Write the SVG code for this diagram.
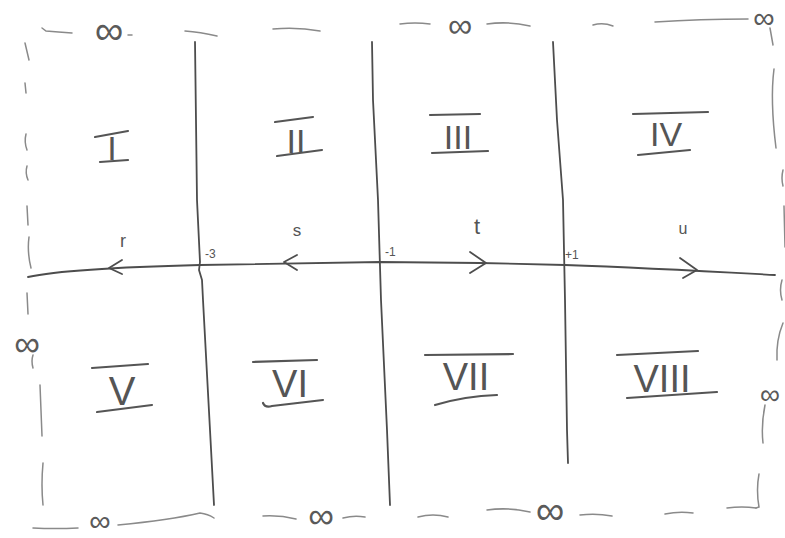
<svg xmlns="http://www.w3.org/2000/svg" width="785" height="538" viewBox="0 0 785 538">
<style>
.ink{fill:none;stroke:#4d4d4d;stroke-width:1.8;stroke-linecap:round;stroke-linejoin:round}
.bar{fill:none;stroke:#555;stroke-width:2.2;stroke-linecap:round}
.edge{fill:none;stroke:#8a8a8a;stroke-width:1.5;stroke-linecap:round}
.num{font-family:"Liberation Sans",Arial,sans-serif;fill:#555;text-anchor:middle}
.lab{font-family:"Liberation Sans",Arial,sans-serif;fill:#555;text-anchor:middle}
.inf{font-family:"Liberation Sans",Arial,sans-serif;fill:#5a5a5a;text-anchor:middle;font-size:40px}
.tick{font-family:"Liberation Sans",Arial,sans-serif;fill:#555;font-size:12px}
</style>
<rect width="785" height="538" fill="#ffffff"/>

<g id="border">
  <!-- top -->
  <path class="edge" d="M42,28 L46,31 Q58,32 72,33"/>
  <path class="edge" d="M128,35 L132,35"/>
  <path class="edge" d="M185,31 Q200,32 217,36"/>
  <path class="edge" d="M273,29 Q298,27 320,31"/>
  <path class="edge" d="M400,24 Q415,22 430,24"/>
  <path class="edge" d="M487,24 Q508,21 530,26"/>
  <path class="edge" d="M593,25 Q603,22 613,26"/>
  <path class="edge" d="M655,22 Q700,19 748,19"/>
  <!-- left -->
  <path class="edge" d="M25,43 L29,60"/>
  <path class="edge" d="M25,83 L26,93"/>
  <path class="edge" d="M26,134 Q24,142 27,150"/>
  <path class="edge" d="M27,166 Q25,173 28,180"/>
  <path class="edge" d="M27,206 L28,225"/>
  <path class="edge" d="M29,237 Q27,252 31,268"/>
  <path class="edge" d="M27,293 L28,314"/>
  <path class="edge" d="M33,355 Q31,361 33,368"/>
  <path class="edge" d="M40,385 L42,436"/>
  <path class="edge" d="M43,463 Q41,485 43,505"/>
  <!-- right -->
  <path class="edge" d="M770,28 L773,45"/>
  <path class="edge" d="M774,69 Q770,100 776,148"/>
  <path class="edge" d="M783,170 Q781,178 783,186"/>
  <path class="edge" d="M784,206 L785,247"/>
  <path class="edge" d="M782,280 Q779,290 782,300"/>
  <path class="edge" d="M783,323 Q776,340 777,360"/>
  <path class="edge" d="M765,405 Q761,425 763,443"/>
  <path class="edge" d="M759,474 Q756,490 759,507 L756,508"/>
  <!-- bottom -->
  <path class="edge" d="M33,528 Q55,529 78,528"/>
  <path class="edge" d="M118,525 Q170,520 200,513 Q208,514 214,518"/>
  <path class="edge" d="M263,516 Q280,515 296,519"/>
  <path class="edge" d="M343,518 Q354,515 365,517"/>
  <path class="edge" d="M418,517 Q433,513 448,517"/>
  <path class="edge" d="M487,510 Q508,507 530,512"/>
  <path class="edge" d="M580,515 Q596,513 612,516"/>
  <path class="edge" d="M665,514 Q679,511 693,513"/>
  <path class="edge" d="M727,508 Q742,506 756,508"/>
</g>

<g id="infinity">
  <text class="inf" x="109" y="44">∞</text>
  <text class="inf" x="460" y="37" style="font-size:34px">∞</text>
  <text class="inf" x="764" y="28" style="font-size:30px">∞</text>
  <text class="inf" x="27" y="356" style="font-size:36px">∞</text>
  <text class="inf" x="770" y="404" style="font-size:28px">∞</text>
  <text class="inf" x="100" y="531" style="font-size:30px">∞</text>
  <text class="inf" x="321" y="528" style="font-size:36px">∞</text>
  <text class="inf" x="550" y="524">∞</text>
</g>

<g id="dividers">
  <path class="ink" d="M195,42 L197,200 L200,262 L199,270 L202,280 L203,300 L210,430 L214,505"/>
  <path class="ink" d="M372,42 L373,100 L378,200 L381,300 L387,430 L390,505"/>
  <path class="ink" d="M553,42 L557,120 L563,200 L565,300 L567,430 L568,463"/>
</g>

<g id="axis">
  <path class="ink" d="M28,277 C60,270 120,267 200,265 L380,262 L480,263 L565,265 C650,268 720,272 775,275"/>
  <polyline class="ink" points="122,260 109,268 122,274"/>
  <polyline class="ink" points="297,255 284,262 297,270"/>
  <polyline class="ink" points="470,252 486,263 470,273"/>
  <polyline class="ink" points="680,258 697,270 683,278"/>
  <text class="tick" x="205" y="258">-3</text>
  <text class="tick" x="385" y="256">-1</text>
  <text class="tick" x="565" y="259">+1</text>
  <text class="lab" x="123" y="247" style="font-size:18px">r</text>
  <text class="lab" x="297" y="236" style="font-size:17px">s</text>
  <text class="lab" x="477" y="234" style="font-size:22px">t</text>
  <text class="lab" x="683" y="234" style="font-size:16px">u</text>
</g>

<g id="region-I">
  <path class="bar" d="M95,137 L128,131"/>
  <text class="num" x="112" y="160" style="font-size:34px">I</text>
  <path class="bar" d="M100,162 L128,160"/>
</g>
<g id="region-II">
  <path class="bar" d="M275,122 L313,117"/>
  <text class="num" x="296" y="153" style="font-size:34px">II</text>
  <path class="bar" d="M277,156 L322,150"/>
</g>
<g id="region-III">
  <path class="bar" d="M430,115 L480,114"/>
  <text class="num" x="458" y="149" style="font-size:34px">III</text>
  <path class="bar" d="M432,153 L488,151"/>
</g>
<g id="region-IV">
  <path class="bar" d="M633,114 L708,112"/>
  <text class="num" x="666" y="146" style="font-size:34px">IV</text>
  <path class="bar" d="M638,155 L690,150"/>
</g>
<g id="region-V">
  <path class="bar" d="M92,368 L148,364"/>
  <text class="num" x="122" y="405" style="font-size:40px">V</text>
  <path class="bar" d="M97,412 L152,405"/>
</g>
<g id="region-VI">
  <path class="bar" d="M253,362 L317,360"/>
  <text class="num" x="290" y="397" style="font-size:38px">VI</text>
  <path class="bar" d="M263,403 Q265,408 272,406 L323,400"/>
</g>
<g id="region-VII">
  <path class="bar" d="M425,355 L513,354"/>
  <text class="num" x="466" y="390" style="font-size:38px">VII</text>
  <path class="bar" d="M435,405 Q465,396 497,395"/>
</g>
<g id="region-VIII">
  <path class="bar" d="M617,355 L698,351"/>
  <text class="num" x="662" y="392" style="font-size:38px">VIII</text>
  <path class="bar" d="M627,398 L717,392"/>
</g>
</svg>
